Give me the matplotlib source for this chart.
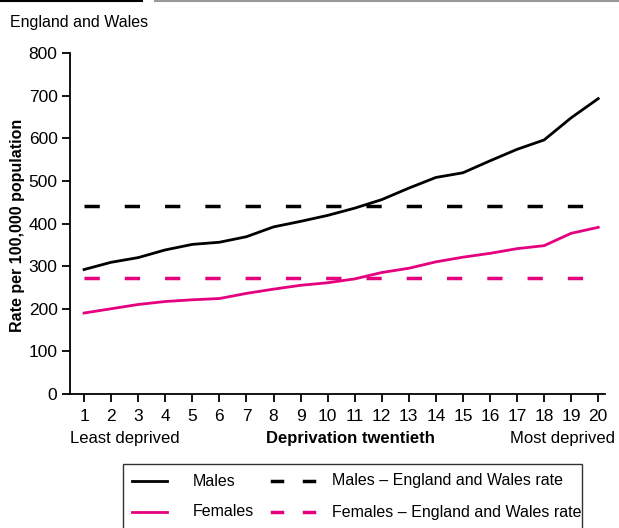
import matplotlib
matplotlib.use('Agg')
import matplotlib.pyplot as plt
from matplotlib.lines import Line2D
from matplotlib.patches import Rectangle
import matplotlib.font_manager as fm

names = set(f.name for f in fm.fontManager.ttflist)
narrow = 'Liberation Sans Narrow' if 'Liberation Sans Narrow' in names else 'Liberation Sans'
plt.rcParams['font.family'] = [narrow, 'DejaVu Sans']
fs = 11.5

# data
twentieth = list(range(1, 21))
males = [292, 309, 320, 338, 351, 356, 369, 392, 405, 419,
         436, 456, 483, 508, 519, 547, 574, 596, 648, 693]
females = [190, 200, 210, 217, 221, 224, 236, 246, 255, 261,
           270, 285, 295, 310, 321, 330, 341, 348, 377, 391]
males_ew = 440
females_ew = 271

black = '#000000'
pink = '#e5007e'

fig = plt.figure(figsize=(6.19, 5.28), dpi=100)
ax = fig.add_axes([70/619, 1-394/528, 535/619, 341/528])

ax.plot(twentieth, males, color=black, lw=2)
ax.plot(twentieth, females, color=pink, lw=2)
ax.plot([twentieth[0], twentieth[-1]], [males_ew]*2, color=black, lw=2.5,
        dashes=(4.4, 7.2))
ax.plot([twentieth[0], twentieth[-1]], [females_ew]*2, color=pink, lw=2.5,
        dashes=(4.4, 7.2))

ax.set_xlim(0.48, 20.25)
ax.set_ylim(0, 800)
ax.set_xticks(twentieth)
ax.set_yticks(range(0, 801, 100))
for s in ['top', 'right']:
    ax.spines[s].set_visible(False)
for s in ['left', 'bottom']:
    ax.spines[s].set_linewidth(1.3)
ax.tick_params(axis='both', length=6, width=1.3, labelsize=fs + 1, pad=3)
ax.tick_params(axis='x', pad=5)

fig.text(18/619, 1-225/528, 'Rate per 100,000 population', fontsize=fs,
         fontweight='bold', rotation=90, va='center', ha='center')
fig.text(70/619, 1-438/528, 'Least deprived', fontsize=fs + 0.5, va='center', ha='left')
fig.text(350/619, 1-438/528, 'Deprivation twentieth', fontsize=fs + 0.5,
         fontweight='bold', va='center', ha='center')
fig.text(615/619, 1-438/528, 'Most deprived', fontsize=fs + 0.5, va='center', ha='right')

fig.text(10/619, 1-22/528, 'England and Wales', fontsize=fs, va='center', ha='left')
# header rules
fig.add_artist(Line2D([0, 142/619], [1-1/528]*2, color=black, lw=1.5,
                      transform=fig.transFigure))
fig.add_artist(Line2D([155/619, 1], [1-1/528]*2, color='#999999', lw=1.5,
                      transform=fig.transFigure))

# legend box (runs off the bottom)
W, H = 619, 528
fig.add_artist(Rectangle((123/W, -0.05), (582-123)/W, 0.05+1-464/H, fill=False,
                         ec='#333333', lw=1, transform=fig.transFigure))
rows = [(481, 'Males', 'Males \u2013 England and Wales rate', black),
        (512, 'Females', 'Females \u2013 England and Wales rate', pink)]
for y, lab1, lab2, c in rows:
    yy = 1-y/H
    fig.add_artist(Line2D([132/W, 167/W], [yy]*2, color=c, lw=2,
                          transform=fig.transFigure))
    fig.text(193/W, yy, lab1, fontsize=fs, va='center', ha='left')
    for x0 in (272, 304):
        fig.add_artist(Line2D([x0/W, (x0+10)/W], [yy]*2, color=c, lw=2.5,
                              transform=fig.transFigure))
    fig.text(332/W, yy, lab2, fontsize=fs, va='center', ha='left')

fig.savefig('out.png', dpi=100)
